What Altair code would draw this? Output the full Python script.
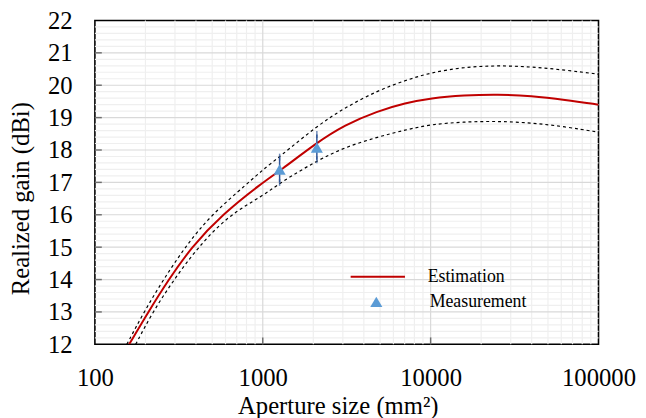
import altair as alt
import pandas as pd

# ---- data ----
est_x = [160, 208, 275, 376, 570, 1000, 1260, 2100, 3070, 4810, 7080, 10000, 15850, 25100, 39800, 63100, 100000]
est_y = [12.0, 13.0, 14.0, 15.0, 16.0, 17.0, 17.35, 18.23, 18.77, 19.20, 19.45, 19.60, 19.69, 19.72, 19.67, 19.55, 19.40]

upper_x = [155, 196, 256, 344, 492, 826, 1000, 1260, 2100, 3070, 4810, 7080, 10000, 15850, 25100, 39800, 63100, 100000]
upper_y = [12.0, 13.0, 14.0, 15.0, 16.0, 17.0, 17.39, 17.79, 18.74, 19.30, 19.83, 20.15, 20.39, 20.56, 20.61, 20.57, 20.47, 20.34]

lower_x = [175, 221, 296, 411, 630, 1000, 1260, 2100, 3070, 4810, 7080, 10000, 15850, 25100, 39800, 63100, 100000]
lower_y = [12.0, 13.0, 14.0, 15.0, 16.0, 16.58, 16.98, 17.67, 18.08, 18.40, 18.62, 18.79, 18.87, 18.89, 18.84, 18.72, 18.55]

meas_x = [1260, 2100]
meas_y = [17.40, 18.08]
meas_lo = [17.00, 17.70]
meas_hi = [17.78, 18.48]

x_labels = [100, 1000, 10000, 100000]
y_labels = [12, 13, 14, 15, 16, 17, 18, 19, 20, 21, 22]
x_major = [1000, 10000]
x_minor = [m * 10 ** d for d in (2, 3, 4) for m in range(2, 10)]
y_major = [13, 14, 15, 16, 17, 18, 19, 20, 21]
y_minor = [v / 5 for v in range(60, 110) if v % 5 != 0]

FONT = "Liberation Serif"

xscale = alt.Scale(type="log", domain=[100, 100000], nice=False)
yscale = alt.Scale(domain=[12, 22], nice=False, zero=False)

x_axis = alt.Axis(values=x_labels, format="d", ticks=False, domain=False, grid=False,
                  labelFlush=False, labelOverlap=False,
                  labelFont=FONT, titleFont=FONT, labelColor="black", titleColor="black",
                  labelFontSize=25, labelPadding=22, title="Aperture size (mm²)",
                  titleFontSize=25, titleFontWeight="normal",
                  titleX=246, titleY=70, titleBaseline="alphabetic")
y_axis = alt.Axis(values=y_labels, ticks=False, domain=False, grid=False,
                  labelFlush=False, labelOverlap=False,
                  labelFont=FONT, titleFont=FONT, labelColor="black", titleColor="black",
                  labelFontSize=25, labelPadding=23, title="Realized gain (dBi)",
                  titleFontSize=25, titleFontWeight="normal",
                  titleX=-67, titleY=180, titleBaseline="alphabetic")


def X(field="x"):
    return alt.X(f"{field}:Q", scale=xscale, axis=x_axis)


def Y(field="y"):
    return alt.Y(f"{field}:Q", scale=yscale, axis=y_axis)


est_df = pd.DataFrame({"x": est_x, "y": est_y, "series": "Estimation"})
up_df = pd.DataFrame({"x": upper_x, "y": upper_y})
lo_df = pd.DataFrame({"x": lower_x, "y": lower_y})
meas_df = pd.DataFrame({"x": meas_x, "y": meas_y, "lo": meas_lo, "hi": meas_hi, "series": "Measurement"})

xmin_df = pd.DataFrame({"x": x_minor})
xmaj_df = pd.DataFrame({"x": x_major})
ymin_df = pd.DataFrame({"y": y_minor})
ymaj_df = pd.DataFrame({"y": y_major})

grid_xmin = alt.Chart(xmin_df).mark_rule(color="#efefef", strokeWidth=1.2).encode(x=X())
grid_ymin = alt.Chart(ymin_df).mark_rule(color="#efefef", strokeWidth=1.2).encode(y=Y())
grid_xmaj = alt.Chart(xmaj_df).mark_rule(color="#d9d9d9", strokeWidth=1.2).encode(x=X())
grid_ymaj = alt.Chart(ymaj_df).mark_rule(color="#d9d9d9", strokeWidth=1.2).encode(y=Y())

ytick = alt.Chart(ymaj_df).mark_tick(color="#404040", size=7, thickness=1.5).encode(
    y=Y(), x=alt.value(3.5))
xtick = alt.Chart(xmaj_df).mark_tick(color="#404040", size=7, thickness=1.5).encode(
    x=X(), y=alt.value(324.5))

upper = alt.Chart(up_df).mark_line(color="black", strokeWidth=1.2, strokeDash=[3, 3],
                                   interpolate="basis", clip=True).encode(x=X(), y=Y())
lower = alt.Chart(lo_df).mark_line(color="black", strokeWidth=1.2, strokeDash=[3, 3],
                                   interpolate="basis", clip=True).encode(x=X(), y=Y())

est = alt.Chart(est_df).mark_line(strokeWidth=2, interpolate="basis", clip=True).encode(
    x=X(), y=Y(),
    color=alt.Color("series:N", scale=alt.Scale(domain=["Estimation"], range=["#c00000"]),
                    legend=alt.Legend(title=None, orient="none", legendX=258, legendY=231,
                                      symbolType="stroke", symbolSize=3025, symbolStrokeWidth=2,
                                      labelFont=FONT, labelFontSize=18, labelColor="black",
                                      labelOffset=22, padding=0)))

err = alt.Chart(meas_df).mark_rule(color="#2f5597", strokeWidth=1.5).encode(
    x=X(), y=Y("lo"), y2="hi")
cap_lo = alt.Chart(meas_df).mark_tick(color="#2f5597", size=7, thickness=1.5).encode(
    x=X(), y=Y("lo"))
cap_hi = alt.Chart(meas_df).mark_tick(color="#2f5597", size=7, thickness=1.5).encode(
    x=X(), y=Y("hi"))

pts = alt.Chart(meas_df).mark_point(filled=True, color="#5b9bd5", opacity=1, size=150).encode(
    x=X(), y=Y(),
    shape=alt.Shape("series:N", scale=alt.Scale(domain=["Measurement"], range=["triangle-up"]),
                    legend=alt.Legend(title=None, orient="none", legendX=276, legendY=276,
                                      symbolSize=150, symbolFillColor="#5b9bd5",
                                      symbolStrokeColor="#5b9bd5", symbolStrokeWidth=0,
                                      symbolOpacity=1,
                                      labelFont=FONT, labelFontSize=18, labelColor="black",
                                      labelOffset=45, padding=0)))

chart = alt.layer(grid_xmin, grid_ymin, grid_xmaj, grid_ymaj, ytick, xtick,
                  upper, lower, est, err, cap_lo, cap_hi, pts).properties(
    width=510, height=328,
    padding={"left": 88, "top": 10, "right": 40, "bottom": 72},
    autosize=alt.AutoSizeParams(type="none"),
    background="white",
).configure(font=FONT).configure_view(stroke="black", strokeWidth=1.6).configure_axis(
    labelFont=FONT, titleFont=FONT, labelColor="black", titleColor="black"
).configure_legend(labelFont=FONT)

chart.save("out.html", embed_options={"renderer": "svg", "actions": False})
